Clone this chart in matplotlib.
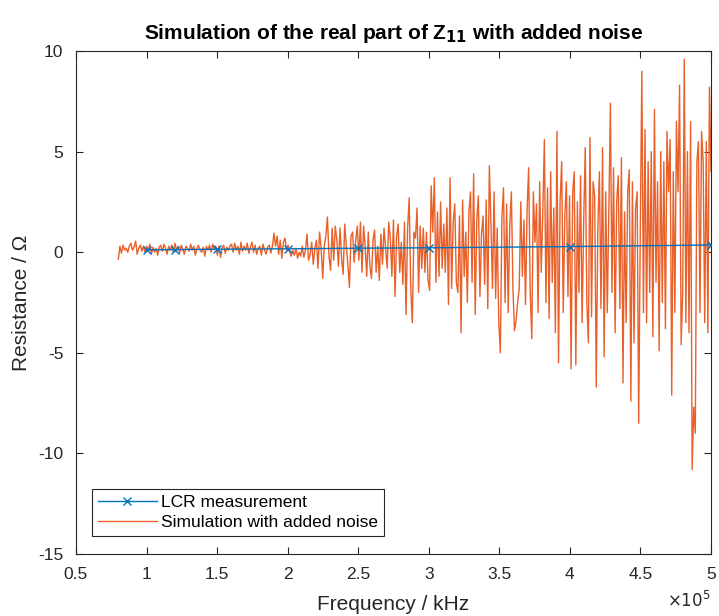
import numpy as np
import matplotlib
matplotlib.use("Agg")
import matplotlib.pyplot as plt
from matplotlib.ticker import FuncFormatter

plt.rcParams['font.family'] = ['Liberation Sans', 'DejaVu Sans']
plt.rcParams['axes.unicode_minus'] = False

# LCR measurement (frequency in kHz-axis units, resistance in Ohm)
lcr_freq = [1.0e5, 1.2e5, 1.5e5, 2.0e5, 2.5e5, 3.0e5, 4.0e5, 5.0e5]
lcr_res = [0.12, 0.13, 0.15, 0.17, 0.2, 0.22, 0.28, 0.36]

# simulated real part with added noise, read off in rows of ~0.1e5 wide
sim_res = [
    -0.35, 0.3, -0.05, 0.35, 0.1, 0.2, 0.0, 0.3, 0.45,
    0.1, 0.25, 0.55, -0.1, 0.2, 0.35, 0.05, 0.3, 0.0,
    0.3, 0.1, 0.4, -0.1, 0.25, 0.0, 0.2, -0.15, 0.25,
    0.35, 0.05, 0.4, 0.2, -0.1, 0.3, 0.1, 0.35, 0.0,
    0.45, 0.1, 0.3, -0.05, 0.35, 0.15, -0.1, 0.3, 0.2,
    0.05, 0.4, 0.1, 0.3, -0.15, 0.2, 0.35, 0.1, 0.0,
    0.25, -0.2, 0.3, 0.1, 0.35, 0.0, 0.4, 0.15, 0.3,
    -0.15, 0.3, -0.25, 0.2, 0.35, -0.05, 0.25, 0.1, 0.3,
    0.4, 0.0, 0.45, 0.1, 0.3, -0.1, 0.5, 0.05, 0.3,
    0.1, 0.45, -0.05, 0.25, 0.5, 0.0, 0.35, -0.1, 0.2,
    0.3, -0.15, 0.4, 0.1, -0.1, 0.25, 0.35, -0.05, 0.3,
    0.95, 0.3, 0.8, -0.1, 0.6, -0.3, 0.5, 0.7, 0.1,
    0.35, 0.0, -0.2, 0.1, -0.15, 0.2, -0.3, 0.0, -0.2,
    0.3, -0.25, 0.1, 0.9, -0.4, -0.1, 0.5, -0.6, 0.2,
    0.6, -0.8, 1.0, 0.2, -1.3, 0.3, 0.8, 1.75, -0.2,
    -0.9, 1.2, -0.4, 1.3, 0.6, -0.7, 1.2, -0.3, -1.1,
    1.4, 0.3, -0.6, -1.75, 0.8, 1.0, -0.5, 0.6, 1.3,
    -0.4, 1.5, -1.0, 1.3, 0.3, -1.2, 1.0, -0.7, -1.3,
    0.6, 1.1, -1.0, 0.3, -1.4, 0.9, -0.6, 1.2, 0.2,
    -0.8, 1.5, 0.7, -1.2, 1.6, -2.2, 0.8, 1.4, -1.0,
    0.5, -1.6, 1.5, -3.1, 1.2, 2.7, -1.8, -3.5, 1.0,
    0.7, 2.2, -2.0, 1.3, -0.8, 1.2, -1.0, 1.0, -1.4,
    -1.9, 3.3, 1.0, 3.7, -1.5, 2.0, -1.2, 2.5, -0.8,
    1.4, -1.0, 2.2, -2.6, 3.7, -1.8, 1.5, 2.4, -1.5,
    -2.0, 1.8, -4.0, 2.6, -1.2, 1.0, -2.5, 2.0, 3.0,
    -1.5, 3.9, -3.1, 1.6, 2.8, -2.2, 0.9, 1.8, -1.6,
    2.6, -2.8, 4.3, 1.5, -1.8, 3.0, -2.3, 1.2, -3.5,
    -5.0, 1.8, 3.2, -2.5, 2.4, -3.0, 1.4, 3.0, -1.8,
    -3.9, -3.4, -2.5, -1.8, 2.5, -1.2, 1.6, -2.6, 2.1,
    4.2, -2.0, -4.3, 3.0, 0.5, 2.4, -3.0, 3.5, -1.0,
    2.0, 5.6, -2.5, 3.2, -3.3, 4.0, -1.5, 2.2, -4.0,
    6.0, -5.5, 2.5, 4.5, -3.0, 1.8, 3.5, -2.2, 2.8,
    -5.8, 3.0, 4.0, -5.6, 2.5, -2.0, 3.8, -3.5, 1.5,
    5.2, -2.5, -4.5, 5.7, -3.2, 3.5, 2.8, -6.7, 1.2,
    4.0, -2.8, 5.2, -5.2, 3.0, -3.0, 2.0, 7.4, -2.0,
    4.2, -4.0, 2.5, 3.8, -2.8, 4.7, -6.5, 2.0, -3.5,
    3.0, 4.1, -7.4, 3.5, -4.5, 2.2, 3.0, -8.5, 1.0,
    9.0, -3.0, 6.1, -3.5, 4.5, -2.0, 5.0, -4.2, 7.1,
    -1.5, 3.5, -4.9, 5.0, -2.5, 4.5, -3.8, 6.0, 3.0,
    5.6, -7.1, 4.0, -3.0, 6.5, 3.0, 8.3, -4.6, -2.0,
    9.6, -3.5, 5.0, -4.0, 6.5, -10.8, -7.7, -9.0, 4.5,
    5.5, -3.0, 6.0, 4.5, -3.5, 5.5, -4.0, 8.2, 4.0,
]
sim_freq = np.linspace(0.8e5, 5.0e5, len(sim_res))

x_ticks = [0.5e5, 1e5, 1.5e5, 2e5, 2.5e5, 3e5, 3.5e5, 4e5, 4.5e5, 5e5]
y_ticks = [-15, -10, -5, 0, 5, 10]

fig = plt.figure(figsize=(7.19, 6.16), dpi=100)
ax = fig.add_axes([0.1057, 0.1006, 0.8832, 0.8166])

ax.plot(sim_freq, sim_res, color='#E8602A', lw=1.0, zorder=2,
        label='Simulation with added noise')
ax.plot(lcr_freq, lcr_res, color='#0072BD', lw=1.0, marker='x', ms=6,
        zorder=3, label='LCR measurement')

ax.set_xlim(0.5e5, 5e5)
ax.set_ylim(-15, 10)
ax.set_xticks(x_ticks)
ax.set_yticks(y_ticks)
ax.xaxis.set_major_formatter(FuncFormatter(lambda v, p: '%g' % (v / 1e5)))
ax.tick_params(direction='in', top=True, right=True, length=5,
               labelsize=12.5, colors='#262626', width=0.8)
ax.tick_params(axis='x', pad=9)
ax.tick_params(axis='y', pad=9)
for s in ax.spines.values():
    s.set_color('#262626')
    s.set_linewidth(0.8)

ax.set_xlabel('Frequency / kHz', fontsize=15, color='#262626', labelpad=10)
ax.set_ylabel('Resistance / \u03a9', fontsize=15, color='#262626', labelpad=5)
ax.set_title('Simulation of the real part of Z$_{\\mathbf{11}}$ with added noise',
             fontsize=15, fontweight='bold', pad=9)
ax.text(1.0, -0.0915, '$\\times10^{5}$', transform=ax.transAxes,
        ha='right', va='center', fontsize=12, color='#262626')

h, l = ax.get_legend_handles_labels()
leg = ax.legend(h[::-1], l[::-1], loc='lower left',
                bbox_to_anchor=(0.025, 0.036), fontsize=12.5, fancybox=False,
                edgecolor='#262626', framealpha=1, borderpad=0.35,
                handlelength=3.4, handletextpad=0.25, labelspacing=0.25,
                borderaxespad=0)
leg.get_frame().set_linewidth(0.8)

fig.savefig('out.png', dpi=100)
